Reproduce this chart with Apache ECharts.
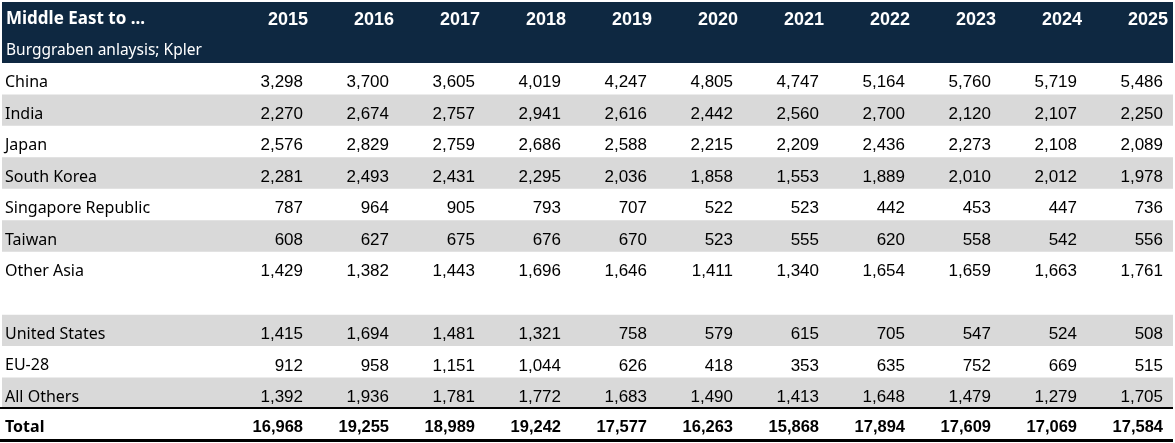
<!DOCTYPE html>
<html>
<head>
<meta charset="utf-8">
<script src="https://cdn.jsdelivr.net/npm/echarts@6/dist/echarts.min.js"></script>
<style>
html, body { margin: 0; padding: 0; background: #fff; }
#main { width: 1175px; height: 443px; }
</style>
</head>
<body>
<div id="main"></div>
<script>
const title = 'Middle East to ...';
const source = 'Burggraben anlaysis; Kpler';
const years = ['2015', '2016', '2017', '2018', '2019', '2020', '2021', '2022', '2023', '2024', '2025'];
const regions = ['China', 'India', 'Japan', 'South Korea', 'Singapore Republic', 'Taiwan', 'Other Asia', '',
    'United States', 'EU-28', 'All Others'];

const china = [3298, 3700, 3605, 4019, 4247, 4805, 4747, 5164, 5760, 5719, 5486];
const india = [2270, 2674, 2757, 2941, 2616, 2442, 2560, 2700, 2120, 2107, 2250];
const japan = [2576, 2829, 2759, 2686, 2588, 2215, 2209, 2436, 2273, 2108, 2089];
const southKorea = [2281, 2493, 2431, 2295, 2036, 1858, 1553, 1889, 2010, 2012, 1978];
const singapore = [787, 964, 905, 793, 707, 522, 523, 442, 453, 447, 736];
const taiwan = [608, 627, 675, 676, 670, 523, 555, 620, 558, 542, 556];
const otherAsia = [1429, 1382, 1443, 1696, 1646, 1411, 1340, 1654, 1659, 1663, 1761];
const unitedStates = [1415, 1694, 1481, 1321, 758, 579, 615, 705, 547, 524, 508];
const eu28 = [912, 958, 1151, 1044, 626, 418, 353, 635, 752, 669, 515];
const allOthers = [1392, 1936, 1781, 1772, 1683, 1490, 1413, 1648, 1479, 1279, 1705];
const total = [16968, 19255, 18989, 19242, 17577, 16263, 15868, 17894, 17609, 17069, 17584];

const regionValues = [china, india, japan, southKorea, singapore, taiwan, otherAsia, [],
    unitedStates, eu28, allOthers];

(function() {

    var navy = '#0E2841';
    var gray = '#D9D9D9';
    var labelW = 225;
    var shaded = ['India', 'South Korea', 'Taiwan', 'United States', 'All Others'];

    var rowNames = [title, source].concat(regions, ['Total']);
    var lastRow = rowNames.length - 1;

    // one item per cell: label column first, then the year columns
    var cells = [];
    rowNames.forEach(function(name, r) {
        cells.push({ col: 0, row: r, text: name, kind: r < 2 ? 'head' + r : (r == lastRow ? 'totalLabel' : 'label'), first: true });
    });
    years.forEach(function(y, c) {
        cells.push({ col: c, row: 0, text: y, kind: 'year' });
    });
    regionValues.forEach(function(vals, i) {
        vals.forEach(function(v, c) {
            cells.push({ col: c, row: i + 2, text: v.toLocaleString('en-US'), kind: 'num' });
        });
    });
    total.forEach(function(v, c) {
        cells.push({ col: c, row: lastRow, text: v.toLocaleString('en-US'), kind: 'total' });
    });

    var fonts = {
        head0: { fontFamily: 'Noto Sans', fontSize: 17, fontWeight: 'bold', fill: '#fff', dy: 3 },
        head1: { fontFamily: 'Noto Sans', fontSize: 15.5, fontWeight: 'normal', fill: '#fff', dy: 3 },
        label: { fontFamily: 'Noto Sans', fontSize: 16, fontWeight: 'normal', fill: '#000', dy: 4 },
        totalLabel: { fontFamily: 'Noto Sans', fontSize: 16, fontWeight: 'bold', fill: '#000', dy: 3 },
        year: { fontFamily: 'Liberation Sans', fontSize: 18, fontWeight: 'bold', fill: '#fff', dy: 4 },
        num: { fontFamily: 'Liberation Sans', fontSize: 17, fontWeight: 'normal', fill: '#000', dy: 4 },
        total: { fontFamily: 'Liberation Sans', fontSize: 16.5, fontWeight: 'bold', fill: '#000', dy: 3 }
    };

    function renderRow(params, api) {
        var cs = params.coordSys;
        var row = api.value(1);
        var yc = api.coord([0, row])[1];
        var h = api.size([0, 1])[1];
        var x0 = cs.x - labelW;
        var w = cs.width + labelW;
        var top = yc - h / 2;
        var name = rowNames[row];
        var children = [];
        if (row == 0) {
            children.push({ type: 'rect', shape: { x: x0, y: top + 2, width: w, height: h - 1.5 }, style: { fill: navy } });
        } else if (row == 1) {
            children.push({ type: 'rect', shape: { x: x0, y: top, width: w, height: h }, style: { fill: navy } });
        } else if (shaded.indexOf(name) >= 0) {
            children.push({ type: 'rect', shape: { x: x0, y: top, width: w, height: h }, style: { fill: gray } });
        }
        if (row == lastRow) {
            children.push({ type: 'rect', shape: { x: x0 - 2, y: top - 2, width: w + 2, height: 2 }, style: { fill: '#000' } });
            children.push({ type: 'rect', shape: { x: x0 - 2, y: top + h - 1.5, width: w + 2, height: 3 }, style: { fill: '#000' } });
        }
        return { type: 'group', children: children };
    }

    function renderCell(params, api) {
        var cell = cells[params.dataIndex];
        var cs = params.coordSys;
        var p = api.coord([cell.col, cell.row]);
        var bw = api.size([1, 0])[0];
        var f = fonts[cell.kind];
        var x, align;
        if (cell.first) {
            x = cs.x - labelW + (cell.row < 2 ? 4 : 3);
            align = 'left';
        } else {
            x = p[0] + bw / 2 - (cell.kind == 'year' ? 5 : 10);
            align = 'right';
        }
        return {
            type: 'text',
            style: {
                text: cell.text,
                x: x,
                y: p[1] + f.dy,
                align: align,
                verticalAlign: 'middle',
                fontFamily: f.fontFamily,
                fontSize: f.fontSize,
                fontWeight: f.fontWeight,
                fill: f.fill
            }
        };
    }

    var myChart = echarts.init(document.getElementById('main'));
    var option = {
        animation: false,
        grid: {
            left: 2 + labelW,
            right: 2,
            top: 0,
            bottom: 2.5
        },
        xAxis: {
            type: 'category',
            data: years,
            show: false
        },
        yAxis: {
            type: 'category',
            data: rowNames,
            inverse: true,
            show: false
        },
        series: [{
                name: 'rows',
                type: 'custom',
                renderItem: renderRow,
                data: rowNames.map(function(n, i) { return [0, i]; }),
                silent: true,
                z: 1
            },
            {
                name: 'cells',
                type: 'custom',
                renderItem: renderCell,
                data: cells.map(function(c) { return [c.col, c.row]; }),
                silent: true,
                z: 2
            }
        ]
    };
    myChart.setOption(option);
    window.addEventListener('resize', function() { myChart.resize(); });
})();
</script>
</body>
</html>
